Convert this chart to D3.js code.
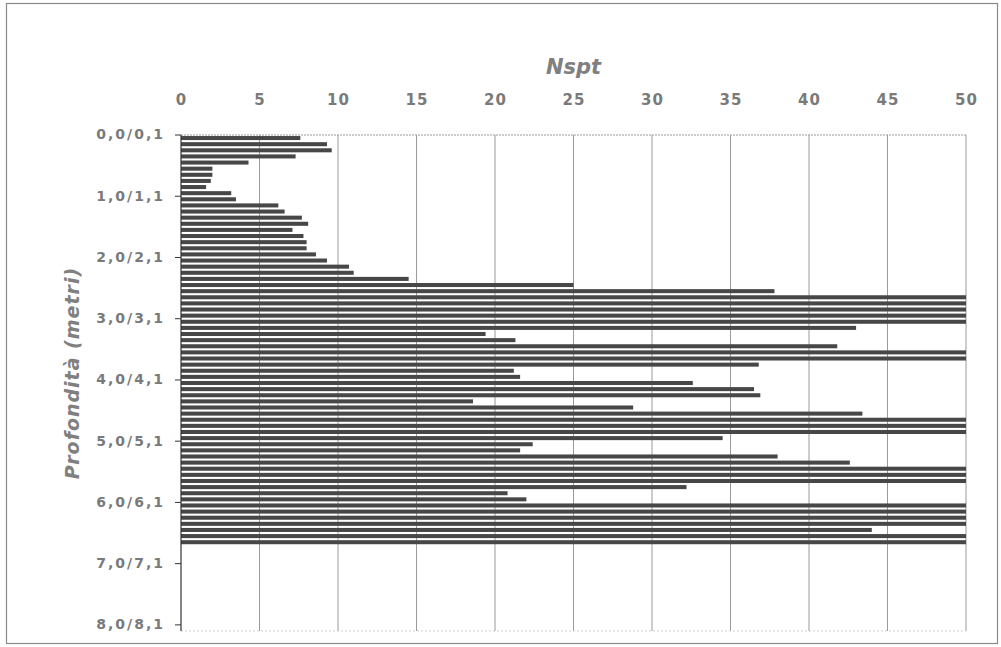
<!DOCTYPE html>
<html>
<head>
<meta charset="utf-8">
<script src="https://cdn.jsdelivr.net/npm/d3@7"></script>
<style>
  html, body { margin: 0; padding: 0; background: #ffffff; }
  svg { display: block; }
</style>
</head>
<body>
<svg id="chart" width="1001" height="647"></svg>
<script>
// ---- data ----
const depthLabels = [];
for (let i = 0; i <= 80; i++) {
  const a = (i / 10).toFixed(1).replace(".", ",");
  const b = ((i + 1) / 10).toFixed(1).replace(".", ",");
  depthLabels.push(a + "/" + b);
}
const nsptValues = [
  7.6, 9.3, 9.6, 7.3, 4.3, 2.0, 2.0, 1.9, 1.6, 3.2,
  3.5, 6.2, 6.6, 7.7, 8.1, 7.1, 7.8, 8.0, 8.0, 8.6,
  9.3, 10.7, 11.0, 14.5, 25.0, 37.8, 50, 50, 50, 50,
  50, 43.0, 19.4, 21.3, 41.8, 50, 50, 36.8, 21.2, 21.6,
  32.6, 36.5, 36.9, 18.6, 28.8, 43.4, 50, 50, 50, 34.5,
  22.4, 21.6, 38.0, 42.6, 50, 50, 50, 32.2, 20.8, 22.0,
  50, 50, 50, 50, 44.0, 50, 50
];
const xTicks = [0, 5, 10, 15, 20, 25, 30, 35, 40, 45, 50];
const yTickLabels = ["0,0/0,1", "1,0/1,1", "2,0/2,1", "3,0/3,1", "4,0/4,1",
                     "5,0/5,1", "6,0/6,1", "7,0/7,1", "8,0/8,1"];
const xTitle = "Nspt";
const yTitle = "Profondità (metri)";

const bars = nsptValues.map((v, i) => ({ cat: depthLabels[i], v: v }));

// ---- layout ----
const svg = d3.select("#chart");
const pL = 181, pR = 966, pT = 135, pB = 631;
const textColor = "#7a7a7a";
const font = "'DejaVu Sans', sans-serif";

// outer frame
svg.append("rect").attr("x", 6.5).attr("y", 3.5).attr("width", 991).attr("height", 640)
  .attr("fill", "none").attr("stroke", "#8a8a8a").attr("stroke-width", 1.2);

const x = d3.scaleLinear().domain([0, 50]).range([pL, pR]);
const y = d3.scaleBand().domain(depthLabels).range([pT, pB])
  .paddingInner(0.34).paddingOuter(0.17);

// gridlines
svg.append("g").selectAll("line").data(xTicks.slice(1)).join("line")
  .attr("x1", d => x(d)).attr("x2", d => x(d))
  .attr("y1", pT).attr("y2", pB)
  .attr("stroke", "#9a9a9a").attr("stroke-width", 1);

// top & bottom border lines of plot
svg.append("line").attr("x1", pL).attr("x2", pR).attr("y1", pT).attr("y2", pT)
  .attr("stroke", "#9a9a9a").attr("stroke-width", 1).attr("stroke-dasharray", "2,1");
svg.append("line").attr("x1", pL).attr("x2", pR).attr("y1", pB).attr("y2", pB)
  .attr("stroke", "#cfcfcf").attr("stroke-width", 1).attr("stroke-dasharray", "2,2");

// bars
svg.append("g").selectAll("rect").data(bars).join("rect")
  .attr("x", x(0))
  .attr("y", d => y(d.cat))
  .attr("width", d => x(d.v) - x(0))
  .attr("height", y.bandwidth())
  .attr("fill", "#474747");

// left axis line
svg.append("line").attr("x1", pL).attr("x2", pL).attr("y1", pT).attr("y2", pB)
  .attr("stroke", "#333").attr("stroke-width", 1.2);

// y ticks at every 10 categories (category boundaries)
const step = y.step();
const tickPos = yTickLabels.map(l => y(l) - step * 0.17);
svg.append("g").selectAll("line").data(tickPos).join("line")
  .attr("x1", pL - 6).attr("x2", pL).attr("y1", d => d).attr("y2", d => d)
  .attr("stroke", "#333").attr("stroke-width", 1);

// x axis (top)
const xAxis = d3.axisTop(x).tickValues(xTicks).tickSize(0).tickPadding(0);
const gx = svg.append("g").attr("transform", `translate(0,${pT - 30})`).call(xAxis);
gx.select(".domain").remove();
gx.selectAll("text")
  .attr("fill", textColor).attr("font-family", font).attr("font-weight", "bold")
  .attr("font-size", 15).attr("letter-spacing", 1);

// y axis labels
const yAxis = d3.axisLeft(y).tickValues(yTickLabels).tickSize(0).tickPadding(16);
const gy = svg.append("g").attr("transform", `translate(${pL},0)`).call(yAxis);
gy.select(".domain").remove();
gy.selectAll("text")
  .attr("fill", textColor).attr("font-family", font).attr("font-weight", "bold")
  .attr("font-size", 14).attr("letter-spacing", 2)
  .attr("dy", "0.1em");

// titles
svg.append("text").attr("x", (pL + pR) / 2).attr("y", 74)
  .attr("text-anchor", "middle").attr("fill", "#808080")
  .attr("font-family", font).attr("font-weight", "bold").attr("font-style", "italic")
  .attr("font-size", 21).text(xTitle);

svg.append("text")
  .attr("transform", `translate(79,${(pT + pB) / 2 - 10}) rotate(-90)`)
  .attr("text-anchor", "middle").attr("fill", "#808080")
  .attr("font-family", font).attr("font-weight", "bold").attr("font-style", "italic")
  .attr("font-size", 19).attr("letter-spacing", 1).text(yTitle);
</script>
</body>
</html>
